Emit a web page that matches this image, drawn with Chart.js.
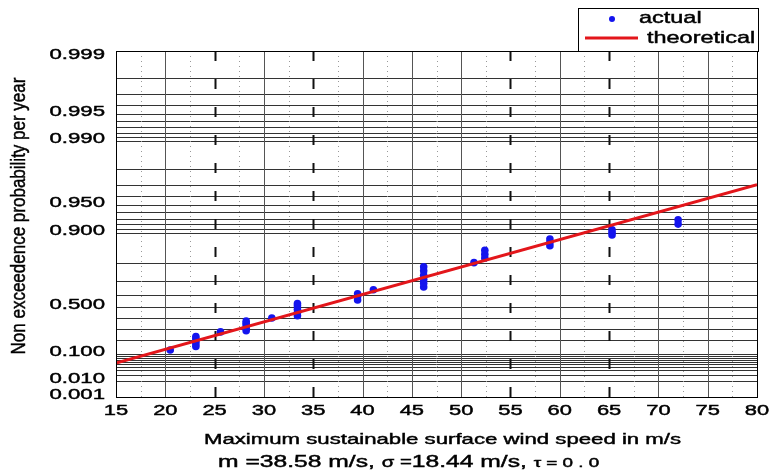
<!DOCTYPE html>
<html>
<head>
<meta charset="utf-8">
<script src="https://cdn.jsdelivr.net/npm/chart.js@4.4.1/dist/chart.umd.min.js"></script>
<style>
html,body{margin:0;padding:0;background:#fff;}
#wrap{width:771px;height:473px;position:relative;}
</style>
</head>
<body>
<div id="wrap"><canvas id="c" width="771" height="473"></canvas></div>
<script>
// ---- data ----
const xTickValues = [15,20,25,30,35,40,45,50,55,60,65,70,75,80];
const yTickProbs  = [0.999,0.995,0.990,0.950,0.900,0.500,0.100,0.010,0.001];
const yTickLabels = ['0.999','0.995','0.990','0.950','0.900','0.500','0.100','0.010','0.001'];
const gridProbs = [0.998,0.997,0.996,0.995,0.994,0.993,0.992,0.991,0.990,
                   0.98,0.97,0.96,0.95,0.94,0.93,0.92,0.91,0.90,
                   0.8,0.7,0.6,0.5,0.4,0.3,0.2,0.1,
                   0.09,0.08,0.07,0.06,0.05,0.04,0.03,0.02,0.01];
const actualX = [20.5,
  23.1,23.1,23.1,23.1,23.1,
  25.6,
  28.2,28.2,28.2,28.2,28.2,
  30.8,
  33.4,33.4,33.4,33.4,33.4,
  39.5,39.5,39.5,
  41.1,
  46.2,46.2,46.2,46.2,46.2,46.2,
  51.3,
  52.4,52.4,52.4,
  59.0,59.0,59.0,
  65.3,65.3,65.3,
  72.0,72.0];
const actualP = [0.125,
  0.15,0.17,0.19,0.21,0.23,
  0.27,
  0.28,0.30,0.33,0.35,0.37,
  0.40,
  0.42,0.45,0.48,0.51,0.53,
  0.56,0.59,0.61,
  0.64,
  0.66,0.685,0.71,0.735,0.76,0.78,
  0.80,
  0.82,0.835,0.85,
  0.865,0.875,0.885,
  0.896,0.902,0.908,
  0.920,0.928];
const theoX = [15, 80];
const theoP = [0.055, 0.970];
const xTitle = 'Maximum sustainable surface wind speed in m/s';
const yTitle = 'Non exceedence probability per year';

// Gumbel probability paper: reduced variate
function gumbel(p){ return -Math.log(-Math.log(p)); }

// ---- stretched text helper ----
function stext(ctx, txt, x, y, size, sx, align){
  ctx.save();
  ctx.font = size + 'px "Liberation Sans", Arial, sans-serif';
  ctx.textBaseline = 'middle';
  ctx.textAlign = 'left';
  const w = ctx.measureText(txt).width * sx;
  let x0 = x;
  if (align === 'right') x0 = x - w;
  else if (align === 'center') x0 = x - w/2;
  ctx.translate(x0, y);
  ctx.scale(sx, 1);
  ctx.fillStyle = '#000';
  ctx.strokeStyle = '#000';
  ctx.lineWidth = 0.45;
  ctx.fillText(txt, 0, 0);
  ctx.strokeText(txt, 0, 0);
  ctx.restore();
  return w;
}

const gridPlugin = {
  id: 'gumbelGrid',
  beforeDatasetsDraw(chart){
    const ctx = chart.ctx, a = chart.chartArea;
    const xs = chart.scales.x, ys = chart.scales.y;
    ctx.save();
    // horizontal probability grid
    ctx.strokeStyle = '#333';
    ctx.lineWidth = 1;
    gridProbs.forEach(p => {
      const y = Math.round(ys.getPixelForValue(gumbel(p))) + 0.5;
      ctx.beginPath(); ctx.moveTo(a.left, y); ctx.lineTo(a.right, y); ctx.stroke();
    });
    // dotted minor verticals
    ctx.strokeStyle = '#999';
    ctx.setLineDash([1,4]);
    for (let v = 17.5; v < 80; v += 5){
      const x = Math.round(xs.getPixelForValue(v)) + 0.5;
      ctx.beginPath(); ctx.moveTo(x, a.top); ctx.lineTo(x, a.bottom); ctx.stroke();
    }
    // major verticals
    xTickValues.forEach(v => {
      if (v === 15 || v === 80) return;
      const x = Math.round(xs.getPixelForValue(v)) + 0.5;
      if ([25,35,55,65].includes(v)){
        ctx.strokeStyle = '#111'; ctx.lineWidth = 2; ctx.setLineDash([10,18]);
      } else {
        ctx.strokeStyle = '#555'; ctx.lineWidth = 1; ctx.setLineDash([]);
      }
      ctx.beginPath(); ctx.moveTo(x, a.top); ctx.lineTo(x, a.bottom); ctx.stroke();
    });
    ctx.restore();
  },
  afterDraw(chart){
    const ctx = chart.ctx, a = chart.chartArea;
    const xs = chart.scales.x, ys = chart.scales.y;
    ctx.save();
    // plot frame
    ctx.strokeStyle = '#000'; ctx.lineWidth = 1; ctx.setLineDash([]);
    ctx.strokeRect(Math.round(a.left)+0.5, Math.round(a.top)+0.5,
                   Math.round(a.right-a.left), Math.round(a.bottom-a.top));
    // y tick labels
    yTickProbs.forEach((p,i) => {
      let y = ys.getPixelForValue(gumbel(p)) - 2.5;
      y = Math.max(a.top + 4, Math.min(a.bottom - 2, y));
      stext(ctx, yTickLabels[i], 105, y, 15, 1.48, 'right');
    });
    // x tick labels
    xTickValues.forEach(v => {
      stext(ctx, String(v), xs.getPixelForValue(v), a.bottom + 14, 15, 1.46, 'center');
    });
    // x title
    stext(ctx, xTitle, (a.left + a.right)/2 + 6, 440, 15.3, 1.45, 'center');
    // second line with parameters
    let x = 218; const yy = 462;
    x += stext(ctx, 'm =38.58 m/s, ', x, yy, 17, 1.45, 'left');
    x += stext(ctx, '\u03C3 =', x, yy + 1, 14, 1.45, 'left');
    x += stext(ctx, '18.44 m/s, ', x, yy, 17, 1.45, 'left');
    x += stext(ctx, '\u03C4 = 0 . 0', x, yy + 1, 13, 1.45, 'left');
    // y title (rotated)
    ctx.save();
    ctx.translate(20, 216);
    ctx.rotate(-Math.PI/2);
    ctx.scale(1, 1.15);
    ctx.font = '17px "Liberation Sans", Arial, sans-serif';
    ctx.textAlign = 'center'; ctx.textBaseline = 'middle';
    ctx.fillStyle = '#000'; ctx.strokeStyle = '#000'; ctx.lineWidth = 0.4;
    ctx.fillText(yTitle, 0, 0);
    ctx.strokeText(yTitle, 0, 0);
    ctx.restore();
    // legend
    const lx = 578, ly = 8, lw = 180, lh = 43;
    ctx.fillStyle = '#fff';
    ctx.fillRect(lx, ly, lw, lh);
    ctx.strokeStyle = '#000'; ctx.lineWidth = 1;
    ctx.strokeRect(lx + 0.5, ly + 0.5, lw, lh);
    ctx.fillStyle = '#1414ee';
    ctx.beginPath(); ctx.arc(612, 19, 3, 0, Math.PI*2); ctx.fill();
    stext(ctx, chart.data.datasets[1].label, 639, 18, 17, 1.38, 'left');
    ctx.strokeStyle = '#e3161b'; ctx.lineWidth = 3;
    ctx.beginPath(); ctx.moveTo(585, 38); ctx.lineTo(638, 38); ctx.stroke();
    stext(ctx, chart.data.datasets[0].label, 647, 38, 17, 1.38, 'left');
    ctx.restore();
  }
};

new Chart(document.getElementById('c'), {
  type: 'scatter',
  data: {
    datasets: [
      {
        label: 'theoretical',
        data: theoX.map((x,i) => ({x: x, y: gumbel(theoP[i])})),
        showLine: true,
        borderColor: '#e3161b',
        backgroundColor: '#e3161b',
        borderWidth: 3,
        pointRadius: 0,
        order: 0
      },
      {
        label: 'actual',
        data: actualX.map((x,i) => ({x: x, y: gumbel(actualP[i])})),
        showLine: false,
        backgroundColor: '#1414ee',
        borderColor: '#1414ee',
        borderWidth: 0,
        pointRadius: 3.8,
        order: 1
      }
    ]
  },
  options: {
    responsive: false,
    animation: false,
    devicePixelRatio: 1,
    layout: { padding: { left: 116, right: 14, top: 51, bottom: 76 } },
    plugins: { legend: { display: false }, tooltip: { enabled: false } },
    scales: {
      x: { type: 'linear', min: 15, max: 80, display: false },
      y: { type: 'linear', min: gumbel(0.001), max: gumbel(0.999), display: false }
    }
  },
  plugins: [gridPlugin]
});
</script>
</body>
</html>
